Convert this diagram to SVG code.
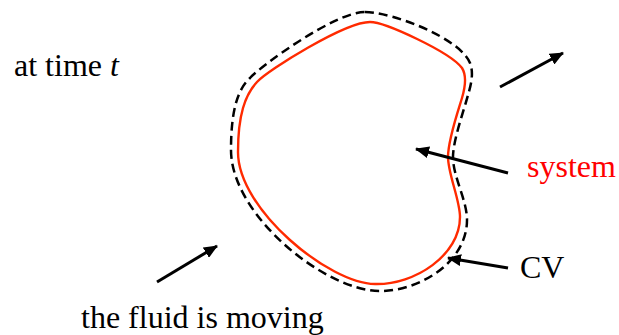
<svg xmlns="http://www.w3.org/2000/svg" width="619" height="335" viewBox="0 0 619 335">
<style>
.lbl{font-family:"Liberation Serif","Times New Roman",serif;font-size:32px;fill:#000}
.arr{stroke:#000;stroke-width:3;fill:none;marker-end:url(#ah)}
</style>
<defs>
<marker id="ah" markerUnits="userSpaceOnUse" markerWidth="16" markerHeight="12" refX="13" refY="6" orient="auto">
<path d="M0,0 L14,6 L0,12 Z" fill="#000"/>
</marker>
</defs>
<rect width="619" height="335" fill="#fff"/>
<g id="cv">
<path d="M365,12 C392,12 460,38 470,63 C474,73 471,85 468,95 C465,107 453,140 453,157 C453,177 467,200 467,220 C467,262 420,291 380,291 C325,291 231,215 231,150 C231,112 237,90 250,78 C262,65 335,12 365,12 Z" fill="none" stroke="#000" stroke-width="2.5" stroke-dasharray="9,5"/>
</g>
<g id="system">
<path d="M370,22 C385,22 450,52 462,68 C467,76 465,88 462,98 C459,108 448,140 448,157 C448,174 460,200 460,217 C460,255 415,285 375,284 C330,284 238,210 238,152 C238,115 245,95 257,82 C268,70 345,22 370,22 Z" fill="none" stroke="#ff2a00" stroke-width="2.4"/>
</g>
<g id="connectors">
<line class="arr" x1="500" y1="87" x2="563" y2="53"/>
<line class="arr" x1="508" y1="173" x2="416" y2="149"/>
<line class="arr" x1="508" y1="268" x2="448" y2="258"/>
<line class="arr" x1="157" y1="282" x2="217" y2="246"/>
</g>
<g id="labels">
<text class="lbl" x="14" y="76">at time <tspan font-style="italic">t</tspan></text>
<text class="lbl" x="527" y="177" style="fill:#ff0000">system</text>
<text class="lbl" x="520" y="278">CV</text>
<text class="lbl" x="81" y="328">the fluid is moving</text>
</g>
</svg>
